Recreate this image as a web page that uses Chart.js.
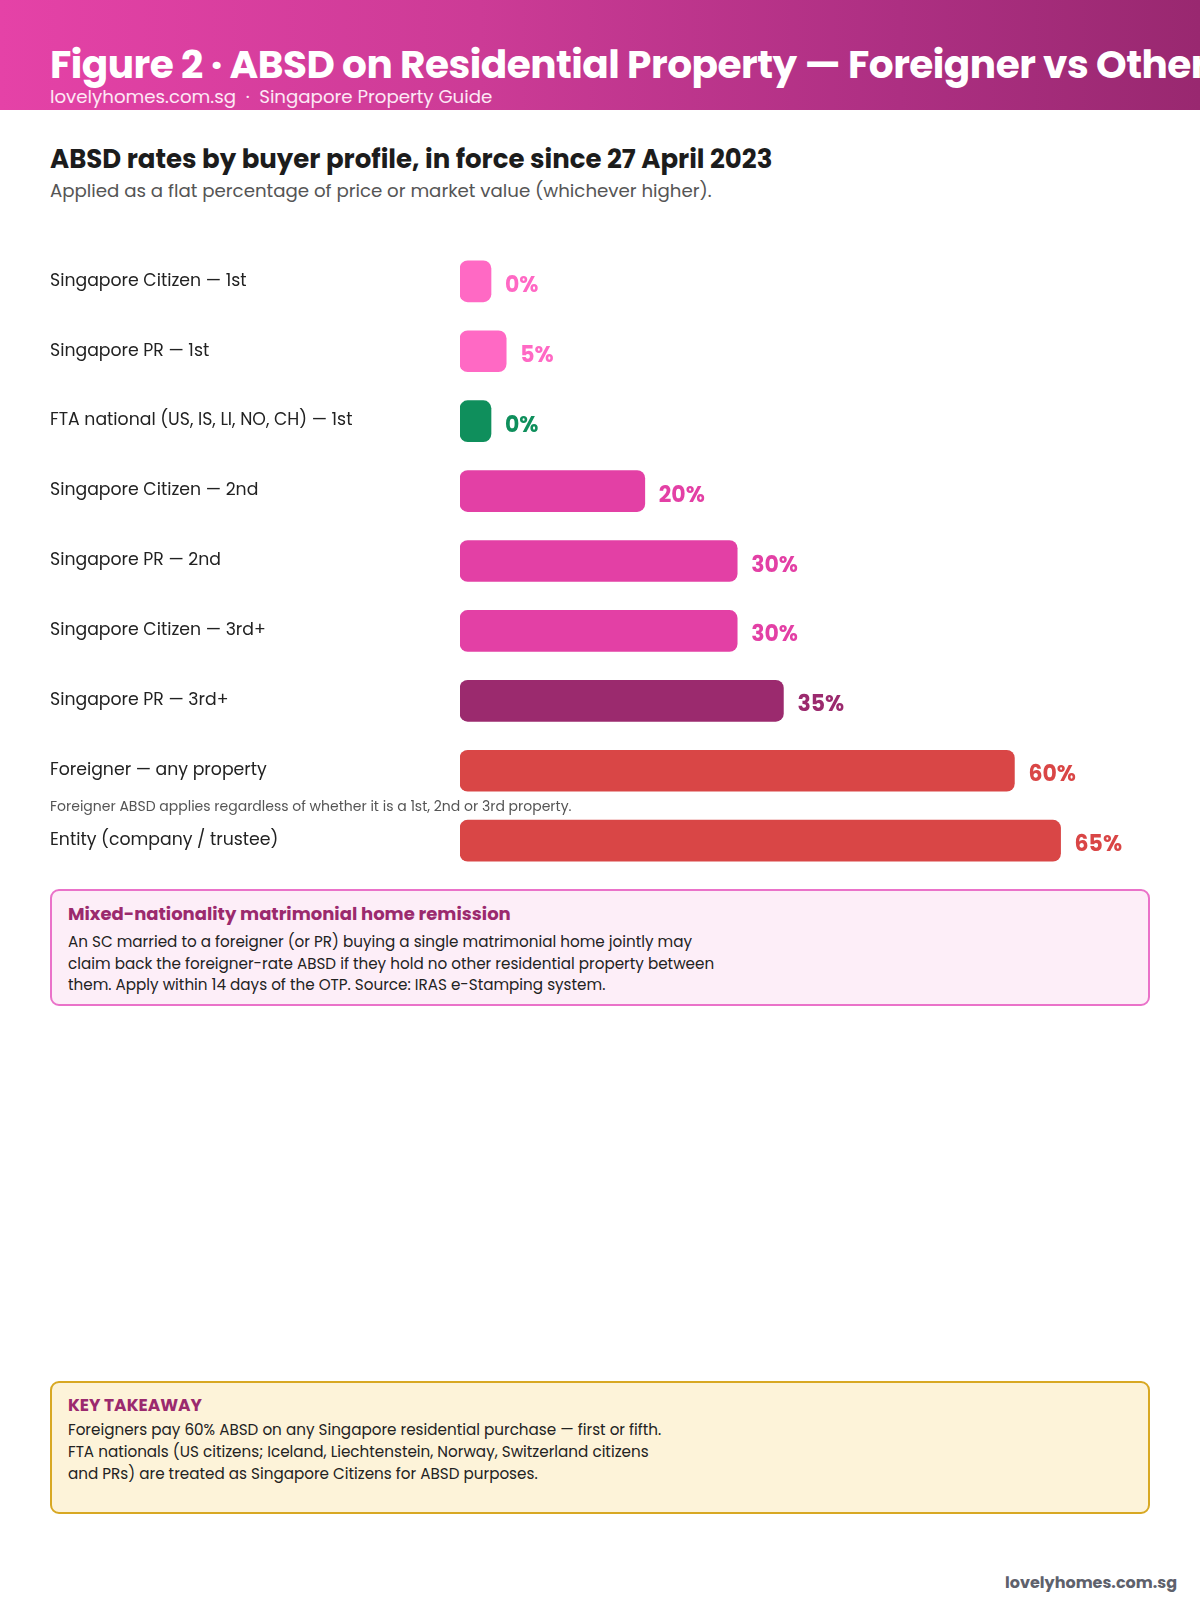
<!DOCTYPE html>
<html>
<head>
<meta charset="utf-8">
<script src="https://cdn.jsdelivr.net/npm/chart.js@4.4.1/dist/chart.umd.min.js"></script>
<style>
  body { margin: 0; background: #fff; font-family: "Poppins", "Open Sans", sans-serif; }
  #page { position: relative; width: 1200px; height: 1600px; overflow: hidden; background: #fff; }
  .header { position: absolute; left: 0; top: 0; width: 1200px; height: 110px;
    background: linear-gradient(90deg, #e542a7 0%, #cc3b96 40%, #ad2f82 75%, #992870 100%); }
  .header h1 { position: absolute; left: 50px; top: 41px; margin: 0; font-size: 39px; line-height: 48px;
    font-weight: 700; color: #fff; white-space: nowrap; letter-spacing: -0.5px; }
  .header .sub { position: absolute; left: 50px; top: 85px; font-size: 18.2px; line-height: 24px; color: #fde8f5; white-space: nowrap; }
  .ctitle { position: absolute; left: 50px; top: 143px; font-size: 26px; line-height: 32px; font-weight: 700; color: #1c1c1c; white-space: nowrap; }
  .csub { position: absolute; left: 50px; top: 179px; font-size: 18.2px; line-height: 24px; color: #555; white-space: nowrap; }
  #chartBox { position: absolute; left: 50px; top: 233px; width: 1103px; height: 656px; }
  .box { position: absolute; left: 50px; width: 1100px; box-sizing: border-box; border-radius: 9px; padding: 11px 16px; }
  .remission { top: 889px; height: 117px; background: #fdeef8; border: 2px solid #ea72c9; }
  .takeaway { top: 1381px; height: 133px; background: #fdf3d9; border: 2px solid #d8a823; }
  .box .bt { font-size: 18px; line-height: 24px; font-weight: 700; color: #9b2a6e; }
  .takeaway .bt { font-size: 17px; line-height: 22px; }
  .box .bx { font-size: 15.2px; line-height: 21.7px; color: #222; margin-top: 5px; }
  .takeaway .bx { line-height: 22px; margin-top: 3px; }
  .footer { position: absolute; right: 23px; top: 1572px; font-size: 16px; line-height: 22px; font-weight: 700; color: #5e616c; }
</style>
</head>
<body>
<div id="page">
  <div class="header">
    <h1>Figure 2 · ABSD on Residential Property — Foreigner vs Others</h1>
    <div class="sub">lovelyhomes.com.sg &nbsp;·&nbsp; Singapore Property Guide</div>
  </div>
  <div class="ctitle">ABSD rates by buyer profile, in force since 27 April 2023</div>
  <div class="csub">Applied as a flat percentage of price or market value (whichever higher).</div>

  <div id="chartBox"><canvas id="absd"></canvas></div>

  <div class="box remission">
    <div class="bt">Mixed-nationality matrimonial home remission</div>
    <div class="bx">An SC married to a foreigner (or PR) buying a single matrimonial home jointly may<br>claim back the foreigner-rate ABSD if they hold no other residential property between<br>them. Apply within 14 days of the OTP. Source: IRAS e-Stamping system.</div>
  </div>

  <div class="box takeaway">
    <div class="bt">KEY TAKEAWAY</div>
    <div class="bx">Foreigners pay 60% ABSD on any Singapore residential purchase — first or fifth.<br>FTA nationals (US citizens; Iceland, Liechtenstein, Norway, Switzerland citizens<br>and PRs) are treated as Singapore Citizens for ABSD purposes.</div>
  </div>

  <div class="footer">lovelyhomes.com.sg</div>
</div>

<script>
// Buyer profiles and ABSD rates (%)
var profiles = [
    "Singapore Citizen — 1st",
    "Singapore PR — 1st",
    "FTA national (US, IS, LI, NO, CH) — 1st",
    "Singapore Citizen — 2nd",
    "Singapore PR — 2nd",
    "Singapore Citizen — 3rd+",
    "Singapore PR — 3rd+",
    "Foreigner — any property",
    "Entity (company / trustee)"
];
var rates = [0, 5, 0, 20, 30, 30, 35, 60, 65];
var barColors = ["#ff69c4", "#ff69c4", "#0f8f5c", "#e340a5", "#e340a5", "#e340a5", "#9b2a6e", "#d94646", "#d94646"];
var axisMax = 75;
var foreignerNote = "Foreigner ABSD applies regardless of whether it is a 1st, 2nd or 3rd property.";

var FONT = '"Poppins", "Open Sans", sans-serif';

// value labels at bar ends + the small foreigner note
var valueLabels = {
    id: 'valueLabels',
    afterDatasetsDraw: function(chart) {
        var ctx = chart.ctx;
        var bars = chart.getDatasetMeta(0).data;
        ctx.save();
        ctx.font = 'bold 22px ' + FONT;
        ctx.textBaseline = 'middle';
        ctx.textAlign = 'left';
        bars.forEach(function(bar, i) {
            ctx.fillStyle = barColors[i];
            ctx.fillText(rates[i] + '%', bar.x + 14, bar.y + 5);
        });
        var yScale = chart.scales.y;
        var noteY = (yScale.getPixelForValue(7) + yScale.getPixelForValue(8)) / 2 + 2;
        ctx.font = '14px ' + FONT;
        ctx.fillStyle = '#555';
        ctx.fillText(foreignerNote, yScale.left, noteY);
        ctx.restore();
    }
};

var absdCtx = document.getElementById("absd").getContext("2d");
var absdChart = new Chart(absdCtx, {
    type: 'bar',
    data: {
        labels: profiles,
        datasets: [{
            data: rates,
            backgroundColor: barColors,
            borderRadius: 8,
            borderSkipped: false,
            barThickness: 41,
            minBarLength: 31
        }]
    },
    options: {
        indexAxis: 'y',
        responsive: true,
        maintainAspectRatio: false,
        animation: false,
        layout: { padding: 0 },
        plugins: {
            legend: { display: false },
            tooltip: { enabled: false }
        },
        scales: {
            x: {
                display: false,
                min: 0,
                max: axisMax
            },
            y: {
                grid: { display: false },
                border: { display: false },
                ticks: {
                    crossAlign: 'far',
                    color: '#222',
                    font: { family: FONT, size: 17.3 }
                },
                afterFit: function(scale) { scale.width = 410; }
            }
        }
    },
    plugins: [valueLabels]
});
</script>
</body>
</html>
